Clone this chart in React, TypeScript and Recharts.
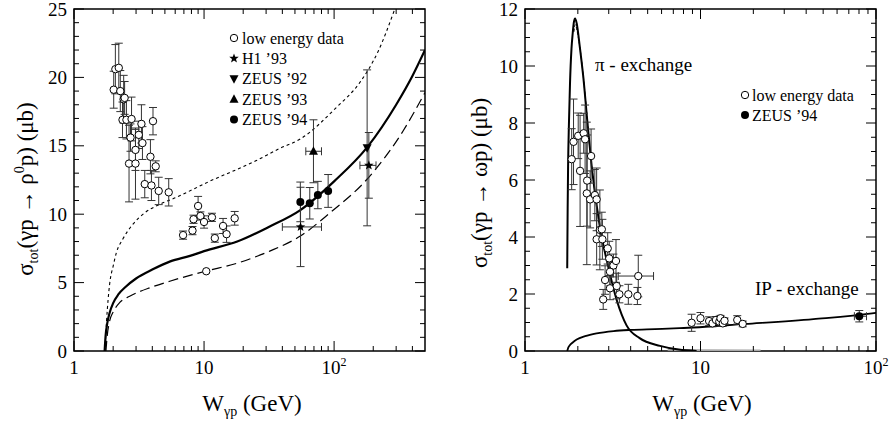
import React from 'react';
import { ComposedChart, Scatter, Line, XAxis, YAxis, ErrorBar, ReferenceArea } from 'recharts';

const FONT = 'Liberation Serif, DejaVu Serif, Times New Roman, serif';
const H = 436;
const XAXIS_H = 30;

// ---- left panel: gamma p -> rho0 p ----
const rhoLowE = [
  { x: 2.02, y: 19.1, ey: 1.35 }, { x: 2.08, y: 20.6, ey: 1.8 }, { x: 2.21, y: 20.7, ey: 1.8 },
  { x: 2.27, y: 19.0, ey: 1.5 }, { x: 2.41, y: 18.4, ey: 1.75 }, { x: 2.45, y: 18.5, ey: 1.2 },
  { x: 2.36, y: 16.9, ey: 1.3 }, { x: 2.53, y: 16.9, ey: 1.4 }, { x: 2.77, y: 16.96, ey: 1.6 },
  { x: 2.72, y: 15.6, ey: 1.0 }, { x: 2.65, y: 13.7, ey: 2.8 }, { x: 2.97, y: 13.7, ey: 2.6 },
  { x: 2.97, y: 14.7, ey: 1.5 }, { x: 3.15, y: 15.8, ey: 1.0 }, { x: 3.3, y: 16.6, ey: 1.4 },
  { x: 3.36, y: 15.2, ey: 1.2 }, { x: 4.05, y: 16.8, ey: 1.0 }, { x: 3.87, y: 14.2, ey: 1.25 },
  { x: 4.25, y: 13.5, ey: 0.4 }, { x: 3.5, y: 12.2, ey: 1.0 }, { x: 3.94, y: 12.1, ey: 1.1 },
  { x: 4.48, y: 11.7, ey: 1.0 }, { x: 5.35, y: 11.6, ey: 1.0 }, { x: 9.0, y: 10.6, ey: 0.7 },
  { x: 8.3, y: 9.63, ey: 0.3 }, { x: 9.38, y: 9.87, ey: 0.3 }, { x: 10.0, y: 9.43, ey: 0.45 },
  { x: 11.5, y: 9.77, ey: 0.3 }, { x: 8.15, y: 8.8, ey: 0.3 }, { x: 6.9, y: 8.47, ey: 0.3 },
  { x: 12.1, y: 8.25, ey: 0.3 }, { x: 14.0, y: 9.14, ey: 0.55 }, { x: 14.9, y: 8.54, ey: 0.6 },
  { x: 17.2, y: 9.7, ey: 0.5 }, { x: 10.4, y: 5.83, ey: 0 },
];
const rhoZeus94 = [
  { x: 55, y: 10.9, ey: 1.45 }, { x: 65, y: 10.8, ey: 1.15 },
  { x: 75, y: 11.4, ey: 1.0 }, { x: 90, y: 11.7, ey: 1.2 },
];
const rhoZeus93 = [{ x: 69.4, y: 14.6, ey: 2.3, ex: [8.8, 10.6] }];
const rhoH1 = [
  { x: 55.2, y: 9.07, ey: 2.9, ex: [15.2, 24.8] },
  { x: 185, y: 13.57, ey: 2.4, ex: [27, 25] },
];
const rhoZeus92 = [{ x: 179.5, y: 14.85, ey: 5.7 }];

const rhoSolid = [
  { x: 1.72, y: 0 }, { x: 1.75, y: 1.1 }, { x: 1.8, y: 2.0 }, { x: 1.88, y: 2.8 }, { x: 2.0, y: 3.5 },
  { x: 2.2, y: 4.15 }, { x: 2.5, y: 4.7 }, { x: 3.0, y: 5.3 }, { x: 4.0, y: 5.95 }, { x: 5.5, y: 6.55 },
  { x: 7.8, y: 6.95 }, { x: 10, y: 7.3 }, { x: 18, y: 8.0 }, { x: 32, y: 9.1 }, { x: 55, y: 10.3 },
  { x: 100, y: 12.4 }, { x: 180, y: 14.9 }, { x: 300, y: 18.0 }, { x: 400, y: 20.1 }, { x: 500, y: 22.0 },
];
const rhoShortDash = [
  { x: 1.73, y: 0 }, { x: 1.78, y: 2.2 }, { x: 1.88, y: 4.9 }, { x: 2.0, y: 6.2 }, { x: 2.12, y: 7.2 },
  { x: 2.38, y: 8.2 }, { x: 2.8, y: 9.2 }, { x: 3.5, y: 10.1 }, { x: 4.5, y: 10.7 }, { x: 6, y: 11.2 },
  { x: 11, y: 12.4 }, { x: 25, y: 13.9 }, { x: 38, y: 14.8 }, { x: 55, y: 15.5 }, { x: 104, y: 17.8 },
  { x: 157, y: 19.6 }, { x: 218, y: 21.9 }, { x: 293, y: 25 },
];
const rhoLongDash = [
  { x: 1.76, y: 0 }, { x: 1.8, y: 1.1 }, { x: 1.88, y: 2.2 }, { x: 2.0, y: 2.85 }, { x: 2.25, y: 3.55 },
  { x: 2.68, y: 4.0 }, { x: 3.9, y: 4.65 }, { x: 5.45, y: 5.1 }, { x: 10.4, y: 5.85 }, { x: 17.7, y: 6.4 },
  { x: 32, y: 7.3 }, { x: 55, y: 8.4 }, { x: 93, y: 10.1 }, { x: 177, y: 12.5 }, { x: 340, y: 16.1 },
  { x: 500, y: 18.9 },
];

// ---- right panel: gamma p -> omega p ----
const omegaLowE = [
  { x: 1.845, y: 6.73, ey: 1.07 }, { x: 1.89, y: 7.34, ey: 1.5 }, { x: 2.01, y: 7.55, ey: 0.8 },
  { x: 2.06, y: 6.32, ey: 1.95 }, { x: 2.16, y: 7.64, ey: 0.7 }, { x: 2.2, y: 7.43, ey: 1.2 },
  { x: 2.26, y: 5.98, ey: 1.6 }, { x: 2.25, y: 5.53, ey: 2.5 }, { x: 2.38, y: 6.84, ey: 0.95 },
  { x: 2.35, y: 5.32, ey: 1.0 }, { x: 2.5, y: 5.47, ey: 0.9 }, { x: 2.56, y: 5.32, ey: 1.1 },
  { x: 2.67, y: 4.25, ey: 1.4 }, { x: 2.74, y: 4.27, ey: 0.6 }, { x: 2.56, y: 3.92, ey: 0.9 },
  { x: 2.76, y: 3.92, ey: 0.7 }, { x: 2.96, y: 3.6, ey: 0.55 }, { x: 3.02, y: 3.25, ey: 0.6 },
  { x: 3.19, y: 3.0, ey: 0.4 }, { x: 3.3, y: 3.16, ey: 0.75 }, { x: 2.86, y: 2.49, ey: 0.5 },
  { x: 3.05, y: 2.2, ey: 0.4 }, { x: 3.33, y: 2.28, ey: 0.45 }, { x: 3.45, y: 1.99, ey: 0.3 },
  { x: 2.79, y: 1.81, ey: 0.35 }, { x: 3.88, y: 1.99, ey: 0.35 }, { x: 4.37, y: 1.93, ey: 0.3 },
  { x: 3.05, y: 2.78, ey: 0.5 },
  { x: 8.9, y: 0.99, ey: 0.3 }, { x: 10.0, y: 1.15, ey: 0.2 }, { x: 11.2, y: 1.05, ey: 0.15 },
  { x: 11.7, y: 0.97, ey: 0.12 }, { x: 12.25, y: 1.09, ey: 0.12 }, { x: 12.8, y: 1.03, ey: 0.1 },
  { x: 13.0, y: 1.15, ey: 0.1 }, { x: 13.4, y: 0.97, ey: 0.1 }, { x: 13.7, y: 1.06, ey: 0.1 },
  { x: 16.2, y: 1.09, ey: 0.15 }, { x: 17.4, y: 0.95, ey: 0.1 },
];
const omegaLowEWide = [{ x: 4.42, y: 2.63, ey: 0.73, ex: [1.02, 0.98] }];
const omegaZeus94 = [{ x: 80.3, y: 1.22, ey: 0.2, ex: [5, 8] }];

const omegaPi = [
  { x: 1.74, y: 2.9 }, { x: 1.75, y: 5.0 }, { x: 1.76, y: 6.47 }, { x: 1.78, y: 8.0 }, { x: 1.805, y: 9.4 },
  { x: 1.84, y: 10.6 }, { x: 1.87, y: 11.15 }, { x: 1.9, y: 11.55 }, { x: 1.93, y: 11.67 }, { x: 1.97, y: 11.5 },
  { x: 2.05, y: 10.7 }, { x: 2.15, y: 9.6 }, { x: 2.27, y: 8.0 }, { x: 2.4, y: 6.47 }, { x: 2.67, y: 4.36 },
  { x: 2.98, y: 2.96 }, { x: 3.33, y: 1.79 }, { x: 3.79, y: 0.9 }, { x: 4.5, y: 0.45 }, { x: 5.88, y: 0.18 },
  { x: 7.5, y: 0.05 }, { x: 9.5, y: 0 },
];
const omegaPiDash = [
  { x: 1.9, y: 11.2 }, { x: 1.93, y: 11.45 }, { x: 2.0, y: 11.1 }, { x: 2.1, y: 10.2 },
  { x: 2.2, y: 9.0 }, { x: 2.35, y: 7.0 }, { x: 2.5, y: 5.6 },
];
const omegaTail = [{ x: 6.5, y: 0.04 }, { x: 10, y: 0.03 }, { x: 22, y: 0.02 }];
const omegaIP = [
  { x: 1.74, y: 0 }, { x: 1.76, y: 0.1 }, { x: 1.8, y: 0.2 }, { x: 1.87, y: 0.3 }, { x: 1.97, y: 0.4 },
  { x: 2.2, y: 0.52 }, { x: 2.56, y: 0.62 }, { x: 3.2, y: 0.7 }, { x: 4, y: 0.74 }, { x: 5.5, y: 0.77 },
  { x: 7.6, y: 0.8 }, { x: 18, y: 0.95 }, { x: 44, y: 1.12 }, { x: 95, y: 1.32 }, { x: 100, y: 1.34 },
];

// ---- ticks ----
const xMajors = [1, 10, 100];
const leftXTicks = [1, 2, 3, 4, 5, 6, 7, 8, 9, 10, 20, 30, 40, 50, 60, 70, 80, 90, 100, 200, 300, 400];
const rightXTicks = [1, 2, 3, 4, 5, 6, 7, 8, 9, 10, 20, 30, 40, 50, 60, 70, 80, 90, 100];
const leftYTicks = [0, 1, 2, 3, 4, 5, 6, 7, 8, 9, 10, 11, 12, 13, 14, 15, 16, 17, 18, 19, 20, 21, 22, 23, 24, 25];
const leftYMajors = [0, 5, 10, 15, 20, 25];
const rightYTicks = [0, 0.5, 1, 1.5, 2, 2.5, 3, 3.5, 4, 4.5, 5, 5.5, 6, 6.5, 7, 7.5, 8, 8.5, 9, 9.5, 10, 10.5, 11, 11.5, 12];
const rightYMajors = [0, 2, 4, 6, 8, 10, 12];

type Geo = { w: number; left: number; right: number; top: number; bottom: number };
const LEFT: Geo = { w: 445, left: 74, right: 425, top: 9, bottom: 351 };
const RIGHT: Geo = { w: 444, left: 80, right: 431, top: 9, bottom: 351 };

const margins = (g: Geo) => ({ top: g.top, right: g.w - g.right, bottom: H - g.bottom - XAXIS_H, left: 0 });
const serif = { fontFamily: FONT };

const makeXTick = (g: Geo) => (props: any) => {
  const { x, payload } = props;
  const v = payload.value;
  const major = xMajors.includes(v);
  const len = major ? 10 : 5;
  return (
    <g>
      <line x1={x} x2={x} y1={g.bottom} y2={g.bottom - len} stroke="#000" />
      <line x1={x} x2={x} y1={g.top} y2={g.top + len} stroke="#000" />
      {major && (
        <text x={x} y={374} textAnchor="middle" style={serif} fontSize={19} fill="#000">
          {v === 100 ? (
            <>
              10<tspan fontSize={12} dy={-8}>2</tspan>
            </>
          ) : (
            String(v)
          )}
        </text>
      )}
    </g>
  );
};

const makeYTick = (g: Geo, majors: number[]) => (props: any) => {
  const { y, payload } = props;
  const v = payload.value;
  const major = majors.includes(v);
  const len = major ? 10 : 5;
  return (
    <g>
      <line x1={g.left} x2={g.left + len} y1={y} y2={y} stroke="#000" />
      <line x1={g.right} x2={g.right - len} y1={y} y2={y} stroke="#000" />
      {major && (
        <text x={g.left - 7} y={y} dy="0.35em" textAnchor="end" style={serif} fontSize={19} fill="#000">
          {String(v)}
        </text>
      )}
    </g>
  );
};

const starPath = (cx: number, cy: number, R: number, r: number) => {
  let d = '';
  for (let i = 0; i < 10; i++) {
    const rad = i % 2 === 0 ? R : r;
    const a = -Math.PI / 2 + (i * Math.PI) / 5;
    d += (i === 0 ? 'M' : 'L') + (cx + rad * Math.cos(a)).toFixed(2) + ' ' + (cy + rad * Math.sin(a)).toFixed(2);
  }
  return d + 'Z';
};

const OpenCircle = (p: any) => <circle cx={p.cx} cy={p.cy} r={3.7} fill="#fff" stroke="#000" strokeWidth={1} />;
const DotCircle = (p: any) => <circle cx={p.cx} cy={p.cy} r={4} fill="#000" />;
const StarMark = (p: any) => <path d={starPath(p.cx, p.cy, 5, 2.1)} fill="#000" />;
const TriUp = (p: any) => <path d={`M${p.cx} ${p.cy - 5}L${p.cx + 4.5} ${p.cy + 3.5}L${p.cx - 4.5} ${p.cy + 3.5}Z`} fill="#000" />;
const TriDown = (p: any) => <path d={`M${p.cx} ${p.cy + 5}L${p.cx + 4.5} ${p.cy - 3.5}L${p.cx - 4.5} ${p.cy - 3.5}Z`} fill="#000" />;

const EB = '#333';

function RhoPanel() {
  const g = LEFT;
  return (
    <ComposedChart width={g.w} height={H} margin={margins(g)}>
      <XAxis type="number" dataKey="x" scale="log" domain={[1, 500]} allowDataOverflow ticks={leftXTicks}
        interval={0} tickLine={false} axisLine={false} tick={makeXTick(g)} height={XAXIS_H} />
      <YAxis type="number" dataKey="y" domain={[0, 25]} allowDataOverflow ticks={leftYTicks} interval={0}
        tickLine={false} axisLine={false} tick={makeYTick(g, leftYMajors)} width={g.left} />
      <ReferenceArea x1={1} x2={500} y1={0} y2={25} fill="none" stroke="#000" strokeWidth={1.5} fillOpacity={0} ifOverflow="visible" />
      <Line data={rhoShortDash} dataKey="y" type="monotone" stroke="#000" strokeWidth={1.1} strokeDasharray="3 3"
        dot={false} activeDot={false} isAnimationActive={false} />
      <Line data={rhoLongDash} dataKey="y" type="monotone" stroke="#000" strokeWidth={1.2} strokeDasharray="10 5"
        dot={false} activeDot={false} isAnimationActive={false} />
      <Line data={rhoSolid} dataKey="y" type="monotone" stroke="#000" strokeWidth={2.2}
        dot={false} activeDot={false} isAnimationActive={false} />
      <Scatter data={rhoLowE} dataKey="y" shape={OpenCircle} isAnimationActive={false}>
        <ErrorBar dataKey="ey" direction="y" width={4} stroke={EB} strokeWidth={1} />
      </Scatter>
      <Scatter data={rhoZeus94} dataKey="y" shape={DotCircle} isAnimationActive={false}>
        <ErrorBar dataKey="ey" direction="y" width={4} stroke={EB} strokeWidth={1} />
      </Scatter>
      <Scatter data={rhoZeus93} dataKey="y" shape={TriUp} isAnimationActive={false}>
        <ErrorBar dataKey="ey" direction="y" width={4} stroke={EB} strokeWidth={1} />
        <ErrorBar dataKey="ex" direction="x" width={4} stroke={EB} strokeWidth={1} />
      </Scatter>
      <Scatter data={rhoH1} dataKey="y" shape={StarMark} isAnimationActive={false}>
        <ErrorBar dataKey="ey" direction="y" width={4} stroke={EB} strokeWidth={1} />
        <ErrorBar dataKey="ex" direction="x" width={4} stroke={EB} strokeWidth={1} />
      </Scatter>
      <Scatter data={rhoZeus92} dataKey="y" shape={TriDown} isAnimationActive={false}>
        <ErrorBar dataKey="ey" direction="y" width={4} stroke={EB} strokeWidth={1} />
      </Scatter>
    </ComposedChart>
  );
}

function OmegaPanel() {
  const g = RIGHT;
  return (
    <ComposedChart width={g.w} height={H} margin={margins(g)}>
      <XAxis type="number" dataKey="x" scale="log" domain={[1, 100]} allowDataOverflow ticks={rightXTicks}
        interval={0} tickLine={false} axisLine={false} tick={makeXTick(g)} height={XAXIS_H} />
      <YAxis type="number" dataKey="y" domain={[0, 12]} allowDataOverflow ticks={rightYTicks} interval={0}
        tickLine={false} axisLine={false} tick={makeYTick(g, rightYMajors)} width={g.left} />
      <ReferenceArea x1={1} x2={100} y1={0} y2={12} fill="none" stroke="#000" strokeWidth={1.5} fillOpacity={0} ifOverflow="visible" />
      <Line data={omegaTail} dataKey="y" type="linear" stroke="#aaa" strokeWidth={2}
        dot={false} activeDot={false} isAnimationActive={false} />
      <Line data={omegaIP} dataKey="y" type="monotone" stroke="#000" strokeWidth={1.8}
        dot={false} activeDot={false} isAnimationActive={false} />
      <Line data={omegaPiDash} dataKey="y" type="monotone" stroke="#000" strokeWidth={1} strokeDasharray="3 2"
        dot={false} activeDot={false} isAnimationActive={false} />
      <Line data={omegaPi} dataKey="y" type="monotone" stroke="#000" strokeWidth={2}
        dot={false} activeDot={false} isAnimationActive={false} />
      <Scatter data={omegaLowE} dataKey="y" shape={OpenCircle} isAnimationActive={false}>
        <ErrorBar dataKey="ey" direction="y" width={4} stroke={EB} strokeWidth={1} />
      </Scatter>
      <Scatter data={omegaLowEWide} dataKey="y" shape={OpenCircle} isAnimationActive={false}>
        <ErrorBar dataKey="ey" direction="y" width={4} stroke={EB} strokeWidth={1} />
        <ErrorBar dataKey="ex" direction="x" width={4} stroke={EB} strokeWidth={1} />
      </Scatter>
      <Scatter data={omegaZeus94} dataKey="y" shape={DotCircle} isAnimationActive={false}>
        <ErrorBar dataKey="ey" direction="y" width={4} stroke={EB} strokeWidth={1} />
        <ErrorBar dataKey="ex" direction="x" width={4} stroke={EB} strokeWidth={1} />
      </Scatter>
    </ComposedChart>
  );
}

const legendLeft = [
  { label: 'low energy data', Mark: OpenCircle },
  { label: 'H1 ’93', Mark: StarMark },
  { label: 'ZEUS ’92', Mark: TriDown },
  { label: 'ZEUS ’93', Mark: TriUp },
  { label: 'ZEUS ’94', Mark: DotCircle },
];
const legendRight = [
  { label: 'low energy data', Mark: OpenCircle },
  { label: 'ZEUS ’94', Mark: DotCircle },
];

function Overlay() {
  const t = { style: serif, fill: '#000' };
  return (
    <svg width={889} height={H} style={{ position: 'absolute', left: 0, top: 0, pointerEvents: 'none' }}>
      {legendLeft.map((e, i) => (
        <g key={e.label}>
          <e.Mark cx={234} cy={38 + i * 20.4} />
          <text x={242} y={38 + i * 20.4} dy="0.35em" fontSize={16} {...t}>{e.label}</text>
        </g>
      ))}
      {legendRight.map((e, i) => (
        <g key={e.label}>
          <e.Mark cx={745} cy={95 + i * 20} />
          <text x={752} y={95 + i * 20} dy="0.35em" fontSize={16} {...t}>{e.label}</text>
        </g>
      ))}
      <text x={595} y={64} dy="0.35em" fontSize={19} {...t}>π - exchange</text>
      <text x={755} y={288} dy="0.35em" fontSize={19} {...t}>IP - exchange</text>

      <text x={33} y={189} transform="rotate(-90 33 189)" textAnchor="middle" fontSize={23} {...t}>
        σ<tspan fontSize={14} dy={5}>tot</tspan><tspan dy={-5}>(γp → ρ</tspan><tspan fontSize={14} dy={-9}>0</tspan>
        <tspan dy={9}>p) (μb)</tspan>
      </text>
      <text x={487} y={183} transform="rotate(-90 487 183)" textAnchor="middle" fontSize={23} {...t}>
        σ<tspan fontSize={14} dy={5}>tot</tspan><tspan dy={-5}>(γp → ωp) (μb)</tspan>
      </text>

      <text x={252} y={411} textAnchor="middle" fontSize={23} {...t}>
        W<tspan fontSize={14} dy={5}>γp</tspan><tspan dy={-5}> (GeV)</tspan>
      </text>
      <text x={702} y={411} textAnchor="middle" fontSize={23} {...t}>
        W<tspan fontSize={14} dy={5}>γp</tspan><tspan dy={-5}> (GeV)</tspan>
      </text>
    </svg>
  );
}

export default function App() {
  return (
    <div style={{ position: 'absolute', left: 0, top: 0, width: 889, height: H, background: '#fff', fontFamily: FONT }}>
      <div style={{ position: 'absolute', left: 0, top: 0 }}>
        <RhoPanel />
      </div>
      <div style={{ position: 'absolute', left: 445, top: 0 }}>
        <OmegaPanel />
      </div>
      <Overlay />
    </div>
  );
}
